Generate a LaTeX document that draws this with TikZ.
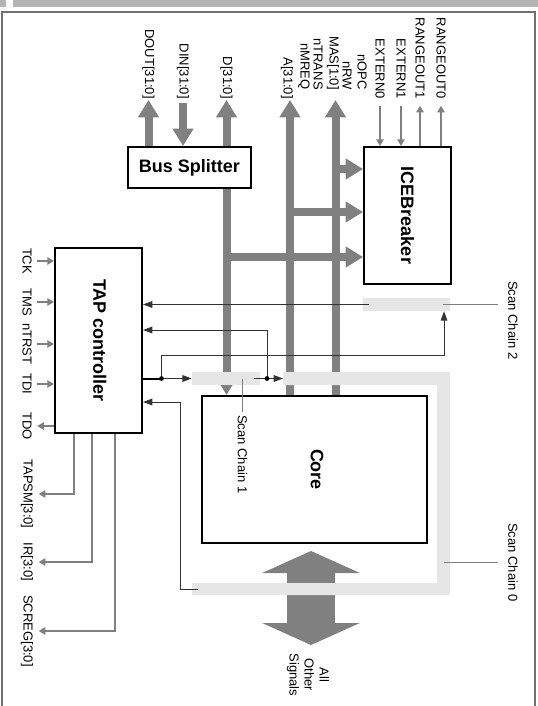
\documentclass[tikz,border=0pt]{standalone}
\usepackage{fontspec}
\setmainfont{Liberation Sans}
\usetikzlibrary{arrows.meta, positioning, backgrounds}

\definecolor{busgray}{HTML}{808080}
\definecolor{scangray}{HTML}{E6E6E6}
\definecolor{framegray}{HTML}{707070}
\definecolor{titlegray}{HTML}{B4B4B4}

\begin{document}
\begin{tikzpicture}[
    x=0.75pt, y=-0.75pt,
    every node/.style={font=\fontsize{9.75}{11.25}\selectfont, inner sep=0pt},
    block/.style={draw, line width=1.5pt, fill=white},
    blocktext/.style={font=\fontsize{13.5}{16}\selectfont\bfseries},
    vlabel/.style={rotate=-90},
    bus/.style={draw=busgray, line width=6pt},
    bustip/.style={-{Triangle[length=13pt, width=15pt]}},
    pinarrow/.style={draw=busgray, line width=1.2pt, -{Triangle[length=5pt, width=5.5pt]}},
    wire/.style={draw=black!80, line width=0.75pt},
    wiretip/.style={-{Triangle[length=7pt, width=5pt]}},
    scanbar/.style={fill=scangray},
    leader/.style={draw=busgray, line width=0.6pt},
]
\useasboundingbox (0,0) rectangle (538,706);

% ── Page frame ───────────────────────────────────────────────────────────────
\fill[titlegray] (0,0) rectangle (538,7);
\fill[white] (6,0) rectangle (13,7);
\draw[framegray, line width=1.1pt] (2,706) -- (2,12) -- (535,12) -- (535,706);

% ── Blocks ───────────────────────────────────────────────────────────────────
\node[block, minimum width=65.25pt, minimum height=138.75pt] (tap) at (98.5,340.5) {};
\node[blocktext, vlabel] (taptext) at ([xshift=1pt]tap.center) {TAP controller};
\node[block, blocktext, minimum width=92.25pt, minimum height=30.75pt] (split) at (189.5,167.5) {Bus Splitter};
\node[block, minimum width=65.25pt, minimum height=102.75pt] (ice) at (407.5,215.5) {};
\node[blocktext, vlabel] (icetext) at (ice.center) {ICEBreaker};
\node[block, minimum width=168.75pt, minimum height=110.25pt] (core) at (314.5,469.5) {};
\node[blocktext, vlabel] (coretext) at ([xshift=2pt]core.center) {Core};

% ── Scan chains ──────────────────────────────────────────────────────────────
\node[scanbar, minimum width=65.25pt, minimum height=9.75pt] (sc2) at (406.5,304.5) {};
\node[scanbar, minimum width=51pt, minimum height=9.75pt] (sc1) at (226,378.5) {};
\fill[scanbar] (283,372) -- (450,372) -- (450,595) -- (192,595) -- (192,583)
    -- (437,583) -- (437,385) -- (283,385) -- cycle;
\coordinate (sc0in) at (283,378.5);
\coordinate (sc0out) at (198,589);
\coordinate (sc0side) at (443.5,562);

% ── Buses (behind blocks and chains) ─────────────────────────────────────────
\begin{pgfonlayer}{background}
    \coordinate (douttop) at (148.5,100);
    \coordinate (dintop) at (183,103);
    \coordinate (dtop) at (226.5,100);
    \coordinate (atop) at (290,100);
    \coordinate (mastop) at (335.5,100);
    \draw[bus, bustip] (douttop |- split.north) -- (douttop);
    \draw[bus, bustip] (dintop) -- (dintop |- split.north);
    \draw[bus, {Triangle[length=13pt, width=15pt]}-{Triangle[length=13pt, width=15pt]}] (dtop) -- (dtop |- core.north);
    \draw[bus, bustip] (atop |- core.north) -- (atop);
    \draw[bus, bustip] (mastop |- core.north) -- (mastop);
    % taps into ICEBreaker
    \draw[bus, bustip] (mastop |- 0,169) -- (ice.west |- 0,169);
    \draw[bus, bustip] (atop |- 0,212) -- (ice.west |- 0,212);
    \draw[bus, bustip] (dtop |- 0,257) -- (ice.west |- 0,257);
    % all other signals
    \coordinate (othtop) at (311,551);
    \coordinate (othbot) at (311,645);
    \draw[bus, line width=36pt, {Triangle[length=16.5pt, width=72.75pt]}-{Triangle[length=16.5pt, width=72.75pt]}] (othtop) -- (othbot);
\end{pgfonlayer}

% ── Scan path wiring ─────────────────────────────────────────────────────────
\coordinate (tdiknot) at (161.5,378.5);
\coordinate (sc1knot) at (267,378.5);
\coordinate (sc2up) at (444,355);
\coordinate (sc1back) at (267,330);
\coordinate (sc0back) at (180,402);
\draw[line width=1.5pt] (tdiknot -| tap.east) -- (tdiknot);
\draw[wire, wiretip] (tdiknot) -- (sc1.west);
\draw[wire, wiretip] (tdiknot) |- (sc2up) -- (sc2up |- sc2.south);
\draw[wire, wiretip] ([xshift=-5pt]sc1.east) -- (sc0in);
\draw[wire, wiretip] (sc1knot) |- (sc1back -| tap.east);
\draw[wire, wiretip] ([xshift=5pt]sc2.west) -- (sc2.west -| tap.east);
\draw[wire, wiretip] (sc0out) -| (sc0back) -- (sc0back -| tap.east);
\fill (tdiknot) circle (1.8pt);
\fill (sc1knot) circle (1.8pt);

% ── TAP pins ─────────────────────────────────────────────────────────────────
\node[vlabel] (ltck) at (27,261) {TCK};
\node[vlabel] (ltms) at (27,302) {TMS};
\node[vlabel] (lntrst) at (27,344) {nTRST};
\node[vlabel] (ltdi) at (27,384) {TDI};
\node[vlabel] (ltdo) at (27,426) {TDO};
\node[vlabel] (ltapsm) at (27,494) {TAPSM[3:0]};
\node[vlabel] (lir) at (27,562) {IR[3:0]};
\node[vlabel] (lscreg) at (27,631) {SCREG[3:0]};
\draw[pinarrow] ([xshift=4pt]ltck.north) -- (ltck.north -| tap.west);
\draw[pinarrow] ([xshift=4pt]ltms.north) -- (ltms.north -| tap.west);
\draw[pinarrow] ([xshift=4pt]lntrst.north) -- (lntrst.north -| tap.west);
\draw[pinarrow] ([xshift=4pt]ltdi.north) -- (ltdi.north -| tap.west);
\draw[pinarrow] (ltdo.north -| tap.west) -- ([xshift=4pt]ltdo.north);
\draw[pinarrow] (tap.south -| 74,0) |- ([xshift=4pt]ltapsm.north);
\draw[pinarrow] (tap.south -| 92,0) |- ([xshift=4pt]lir.north);
\draw[pinarrow] (tap.south -| 115,0) |- ([xshift=4pt]lscreg.north);

% ── Top signals ──────────────────────────────────────────────────────────────
\node[vlabel, anchor=east] (ldout) at (148.5,99) {DOUT[31:0]};
\node[vlabel, anchor=east] (ldin) at (183,99) {DIN[31:0]};
\node[vlabel, anchor=east] (ld) at (226.5,99) {D[31:0]};
\node[vlabel, anchor=east] (la) at (287,99) {A[31:0]};
\node[vlabel, anchor=east] (lnmreq) at (304,90) {nMREQ};
\node[vlabel, anchor=east] (lntrans) at (318,90) {nTRANS};
\node[vlabel, anchor=east] (lmas) at (333,90) {MAS[1:0]};
\node[vlabel, anchor=east] (lnrw) at (347,90) {nRW};
\node[vlabel, anchor=east] (lnopc) at (362,90) {nOPC};
\node[vlabel, anchor=east] (lext0) at (380,99) {EXTERN0};
\node[vlabel, anchor=east] (lext1) at (401,99) {EXTERN1};
\node[vlabel, anchor=east] (lro1) at (420,99) {RANGEOUT1};
\node[vlabel, anchor=east] (lro0) at (441,99) {RANGEOUT0};
\draw[pinarrow] ([yshift=-5pt]lext0.east) -- (lext0.east |- ice.north);
\draw[pinarrow] ([yshift=-5pt]lext1.east) -- (lext1.east |- ice.north);
\draw[pinarrow] (lro1.east |- ice.north) -- ([yshift=-5pt]lro1.east);
\draw[pinarrow] (lro0.east |- ice.north) -- ([yshift=-5pt]lro0.east);

% ── Chain labels ─────────────────────────────────────────────────────────────
\node[vlabel, anchor=west] (lsc2) at (513,281) {Scan Chain 2};
\node[vlabel, anchor=west] (lsc1) at (242.5,415) {Scan Chain 1};
\node[vlabel, anchor=west] (lsc0) at (513,523) {Scan Chain 0};
\draw[leader, shorten >=7.5pt] ([xshift=-5.25pt]sc2.east) -- (sc2.east -| lsc2.south);
\draw[leader, shorten >=2pt] (lsc1.west |- sc1.center) -- (lsc1.west);
\draw[leader, shorten >=7.5pt] (sc0side) -- (sc0side -| lsc0.south);
\node[vlabel, align=center] (lother) at (308,675) {All\\Other\\Signals};

\end{tikzpicture}
\end{document}
